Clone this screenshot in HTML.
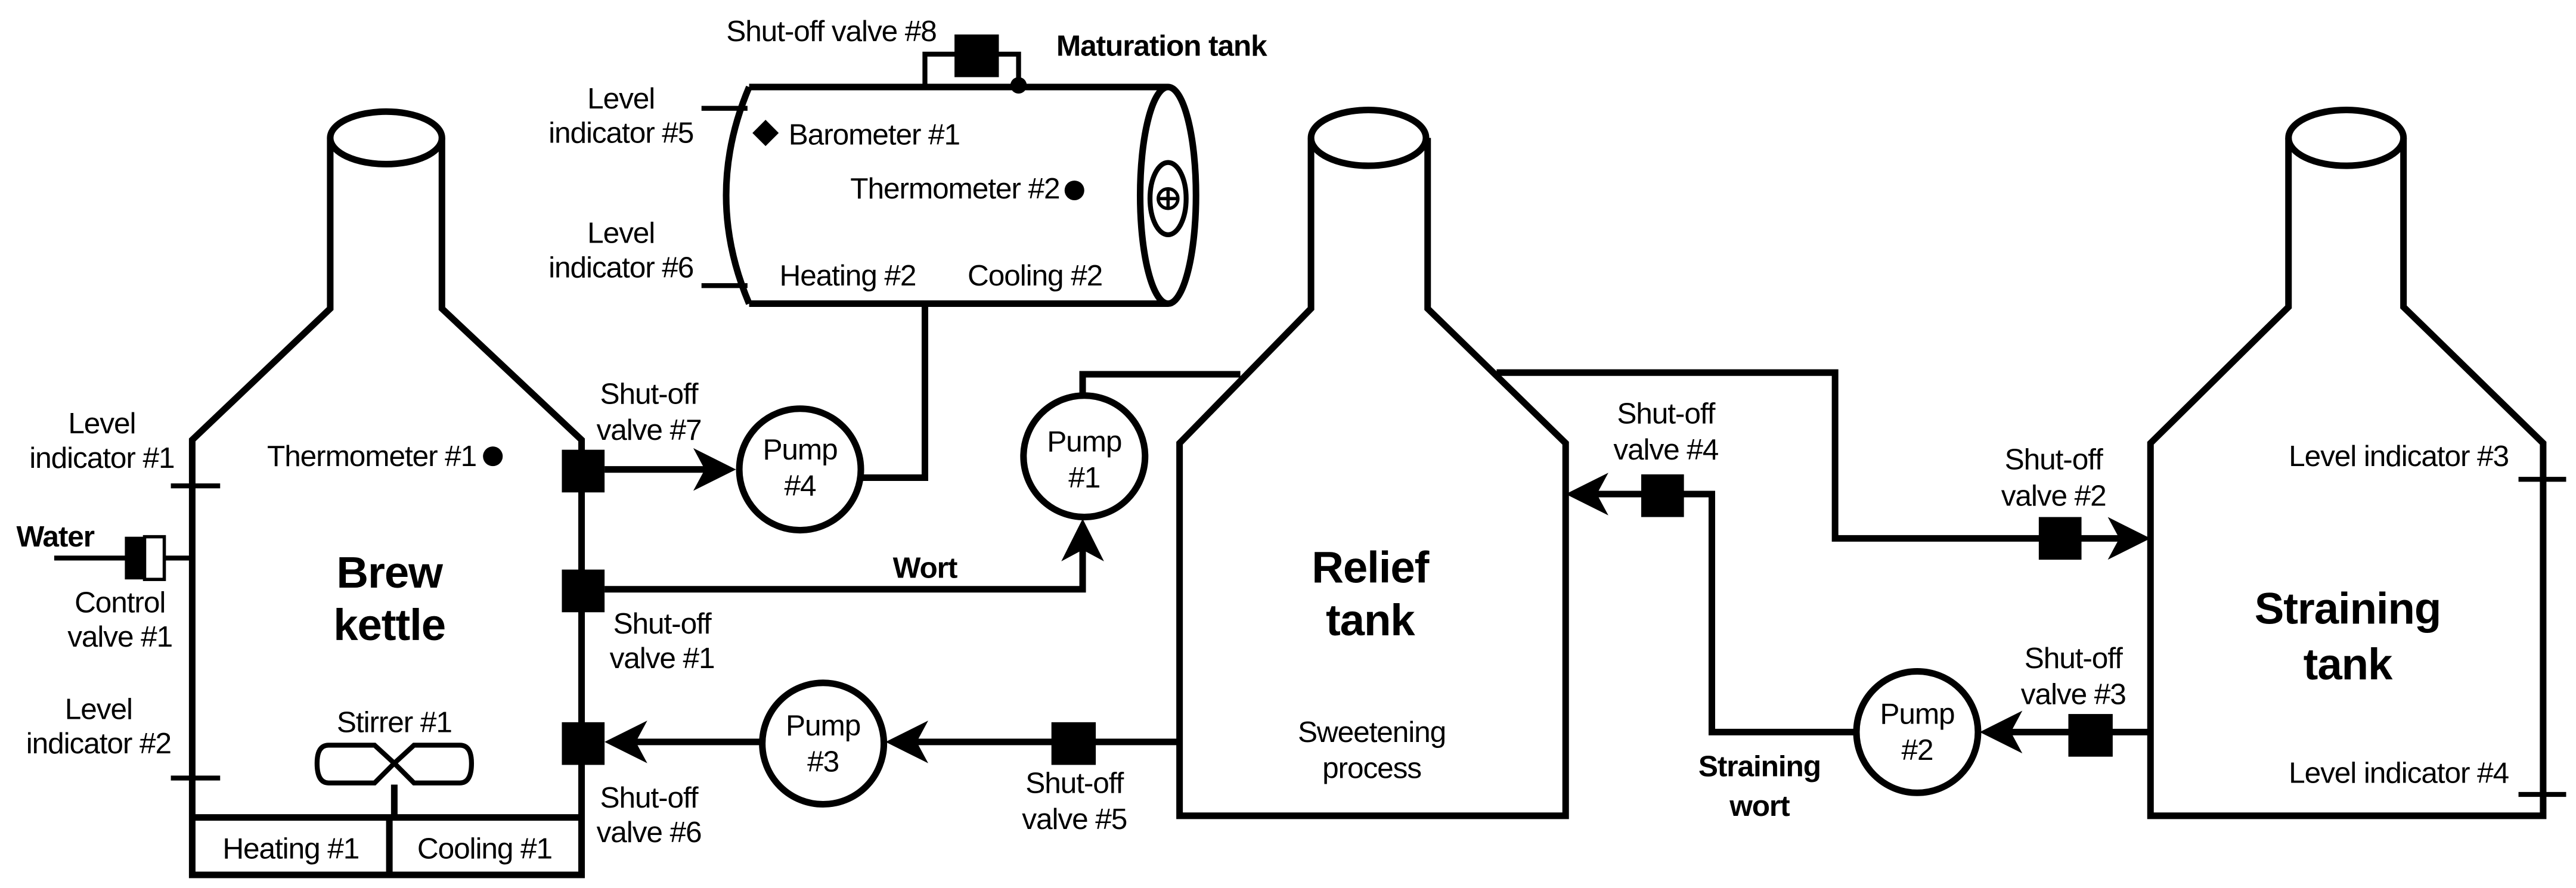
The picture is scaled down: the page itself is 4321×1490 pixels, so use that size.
<!DOCTYPE html>
<html><head><meta charset="utf-8"><style>
html,body{margin:0;padding:0;background:#fff;}
svg{display:block;}
text{font-family:"Liberation Sans Narrow","Liberation Sans",sans-serif;font-size:18px;fill:#000;letter-spacing:-0.4px;}
.b{font-weight:bold;}
.big{font-weight:bold;font-size:27px;}
</style></head><body>
<svg width="4321" height="1490" viewBox="0 0 1568 541" preserveAspectRatio="none" xmlns="http://www.w3.org/2000/svg">
<g fill="none" stroke="#000" stroke-width="4" stroke-linejoin="miter">
<ellipse cx="235" cy="84" rx="34" ry="16"/>
<polyline points="201,84 201,188 117,268 117,533 354,533 354,268 269,188 269,84"/>
<line x1="117" y1="498" x2="354" y2="498"/>
<line x1="237" y1="498" x2="237" y2="533"/>
<line x1="240" y1="478" x2="240" y2="498"/>
<path d="M240,465 L228,454 H200 Q193,454 193,465 Q193,477 200,477 H228 Z" stroke-width="3"/>
<path d="M240,465 L252,454 H280 Q287,454 287,465 Q287,477 280,477 H252 Z" stroke-width="3"/>
<line x1="104" y1="296" x2="134" y2="296" stroke-width="3"/>
<line x1="104" y1="474" x2="134" y2="474" stroke-width="3"/>
<line x1="33" y1="340" x2="77" y2="340" stroke-width="3"/>
<line x1="100" y1="340" x2="117" y2="340" stroke-width="3"/>
<rect x="88" y="327" width="12" height="26" stroke-width="2" fill="#fff"/>
<path d="M456,53 H711 M456,185 H711 M456,53 Q428,119 456,185"/>
<ellipse cx="711" cy="119" rx="17" ry="66"/>
<ellipse cx="711" cy="121" rx="11" ry="22" stroke-width="3"/>
<circle cx="711" cy="121" r="6" stroke-width="2"/>
<line x1="705" y1="121" x2="717" y2="121" stroke-width="2"/>
<line x1="711" y1="115" x2="711" y2="127" stroke-width="2"/>
<polyline points="563,53 563,33 620,33 620,53" stroke-width="3"/>
<line x1="427" y1="66" x2="455" y2="66" stroke-width="3"/>
<line x1="427" y1="174" x2="455" y2="174" stroke-width="3"/>
<line x1="368" y1="286" x2="430" y2="286"/>
<polyline points="524,291 563,291 563,186"/>
<polyline points="368,359 659,359 659,332"/>
<polyline points="659,241 659,228 755,228"/>
<line x1="384" y1="452" x2="464" y2="452"/>
<line x1="555" y1="452" x2="718" y2="452"/>
<ellipse cx="833" cy="84" rx="35" ry="17"/>
<polyline points="798,84 798,188 718,270 718,497 953,497 953,270 869,188 869,84"/>
<polyline points="911,227 1117,227 1117,328 1290,328"/>
<polyline points="970,301 1042,301 1042,446 1130,446"/>
<line x1="1221" y1="446" x2="1309" y2="446"/>
<ellipse cx="1428" cy="84" rx="35" ry="17"/>
<polyline points="1393,84 1393,187 1309,270 1309,497 1548,497 1548,270 1463,187 1463,84"/>
<line x1="1533" y1="292" x2="1562" y2="292" stroke-width="3"/>
<line x1="1533" y1="484" x2="1562" y2="484" stroke-width="3"/>
<circle cx="487" cy="286" r="37" fill="#fff"/>
<circle cx="660" cy="278" r="37" fill="#fff"/>
<circle cx="501" cy="453" r="37" fill="#fff"/>
<circle cx="1167" cy="446" r="37" fill="#fff"/>
</g>
<g fill="#000" stroke="none">
<rect x="76" y="327" width="12" height="26"/>
<rect x="342" y="274" width="26" height="26"/>
<rect x="342" y="347" width="26" height="26"/>
<rect x="342" y="440" width="26" height="26"/>
<rect x="640" y="440" width="27" height="26"/>
<rect x="999" y="289" width="26" height="26"/>
<rect x="1241" y="315" width="26" height="26"/>
<rect x="1259" y="435" width="27" height="26"/>
<rect x="581" y="21" width="27" height="26"/>
<circle cx="620" cy="52" r="5"/>
<circle cx="300" cy="278" r="6"/>
<circle cx="654" cy="116" r="6"/>
<polygon points="466,73 474,81 466,89 458,81"/>
<polygon points="448,286 422,273 429,286 422,299"/>
<polygon points="659,316 646,342 659,335 672,342"/>
<polygon points="368,452 394,439 387,452 394,465"/>
<polygon points="539,452 565,439 558,452 565,465"/>
<polygon points="953,301 979,288 972,301 979,314"/>
<polygon points="1309,328 1283,315 1290,328 1283,341"/>
<polygon points="1205,446 1231,433 1224,446 1231,459"/>
</g>
<g text-anchor="middle">
<text x="62" y="264">Level</text><text x="62" y="285">indicator #1</text>
<text x="73" y="373">Control</text><text x="73" y="394">valve #1</text>
<text x="60" y="438">Level</text><text x="60" y="459">indicator #2</text>
<text x="240" y="446">Stirrer #1</text>
<text x="177" y="523">Heating #1</text>
<text x="295" y="523">Cooling #1</text>
<text x="237" y="358" class="big">Brew</text><text x="237" y="390" class="big">kettle</text>
<text x="395" y="246">Shut-off</text><text x="395" y="268">valve #7</text>
<text x="403" y="386">Shut-off</text><text x="403" y="407">valve #1</text>
<text x="395" y="492">Shut-off</text><text x="395" y="513">valve #6</text>
<text x="654" y="483">Shut-off</text><text x="654" y="505">valve #5</text>
<text x="487" y="280">Pump</text><text x="487" y="302">#4</text>
<text x="660" y="275">Pump</text><text x="660" y="297">#1</text>
<text x="501" y="448">Pump</text><text x="501" y="470">#3</text>
<text x="1167" y="441">Pump</text><text x="1167" y="463">#2</text>
<text x="378" y="66">Level</text><text x="378" y="87">indicator #5</text>
<text x="378" y="148">Level</text><text x="378" y="169">indicator #6</text>
<text x="516" y="174">Heating #2</text>
<text x="630" y="174">Cooling #2</text>
<text x="834" y="355" class="big">Relief</text><text x="834" y="387" class="big">tank</text>
<text x="835" y="452">Sweetening</text><text x="835" y="474">process</text>
<text x="1014" y="258">Shut-off</text><text x="1014" y="280">valve #4</text>
<text x="1250" y="286">Shut-off</text><text x="1250" y="308">valve #2</text>
<text x="1262" y="407">Shut-off</text><text x="1262" y="429">valve #3</text>
<text x="1071" y="473" class="b">Straining</text><text x="1071" y="497" class="b">wort</text>
<text x="1429" y="380" class="big">Straining</text><text x="1429" y="414" class="big">tank</text>
<text x="563" y="352" class="b">Wort</text>
</g>
<text x="10" y="333" class="b">Water</text>
<text x="290" y="284" text-anchor="end">Thermometer #1</text>
<text x="570" y="25" text-anchor="end">Shut-off valve #8</text>
<text x="643" y="34" class="b">Maturation tank</text>
<text x="480" y="88">Barometer #1</text>
<text x="645" y="121" text-anchor="end">Thermometer #2</text>
<text x="1527" y="284" text-anchor="end">Level indicator #3</text>
<text x="1527" y="477" text-anchor="end">Level indicator #4</text>
</svg>
</body></html>
